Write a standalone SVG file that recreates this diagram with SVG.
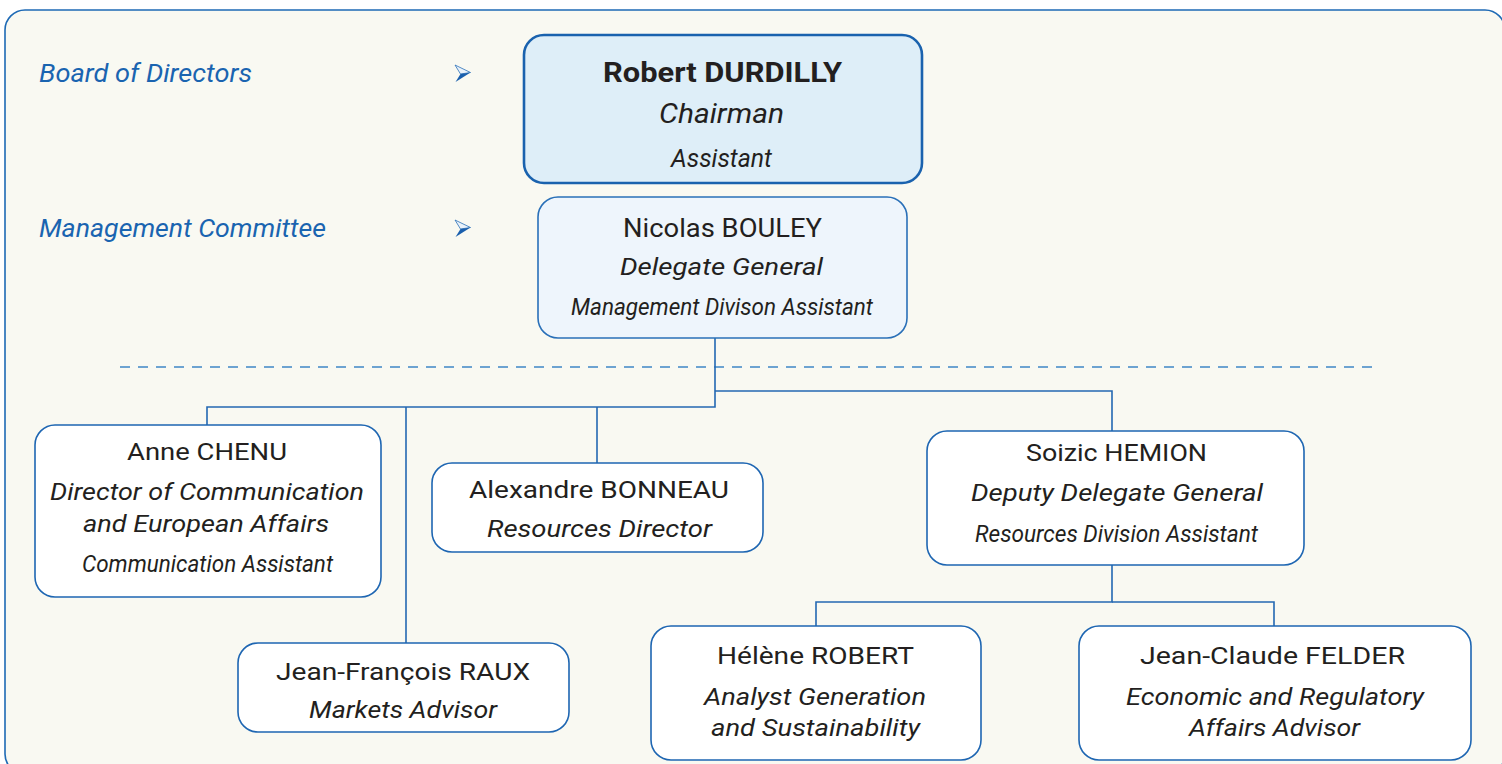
<svg xmlns="http://www.w3.org/2000/svg" width="1502" height="764" viewBox="0 0 1502 764">
<style>
.frame{fill:#f9f9f2;stroke:#1e6ab5;stroke-width:1.6}
.box{fill:#ffffff;stroke:#1e66b2;stroke-width:1.6}
.chair{fill:#deeef8;stroke:#1a62ae;stroke-width:2.6}
.dg{fill:#eef5fc;stroke:#2a70b8;stroke-width:1.6}
.conn{fill:none;stroke:#2468b2;stroke-width:1.6}
.dash{fill:none;stroke:#3f86c6;stroke-width:1.6;stroke-dasharray:10 8}
text{font-family:Roboto,"Liberation Sans",sans-serif;fill:#231f20;text-anchor:middle}
.name{font-size:24px;font-weight:400}
.role{font-size:24px;font-style:italic}
.asst{font-size:24px;font-style:italic}
.lbl{font-size:25px;font-style:italic;fill:#1a64b0;text-anchor:start}
.arrL{fill:#eaf2fa;stroke:#2a70b8;stroke-width:0.8}
.arrD{fill:#1a5fad}
</style>
<rect x="0" y="0" width="1502" height="764" fill="#ffffff"/>
<rect class="frame" x="5" y="10" width="1500" height="764" rx="20"/>

<g id="labels">
<text class="lbl" x="39" y="82" textLength="213" lengthAdjust="spacingAndGlyphs">Board of Directors</text>
<text class="lbl" x="39" y="237" textLength="287" lengthAdjust="spacingAndGlyphs">Management Committee</text>
<g id="arrow1">
<polygon class="arrL" points="455,65 470.5,72.5 460.5,74"/>
<polygon class="arrD" points="460.5,74 470.5,72.5 455.5,82"/>
</g>
<g id="arrow2">
<polygon class="arrL" points="455,220 470.5,227.5 460.5,229"/>
<polygon class="arrD" points="460.5,229 470.5,227.5 455.5,237"/>
</g>
</g>

<g id="connectors">
<line class="dash" x1="120" y1="367" x2="1378" y2="367"/>
<polyline class="conn" points="715,338 715,407 207,407 207,425"/>
<line class="conn" x1="406" y1="407" x2="406" y2="643"/>
<line class="conn" x1="597" y1="407" x2="597" y2="463"/>
<polyline class="conn" points="715,391 1112,391 1112,431"/>
<polyline class="conn" points="1112,565 1112,602 816,602 816,626"/>
<polyline class="conn" points="1112,602 1274,602 1274,626"/>
</g>

<g id="node-durdilly">
<rect class="chair" x="524" y="35" width="398" height="148" rx="20"/>
<text x="722.5" y="82" style="font-size:27px;font-weight:700" textLength="239" lengthAdjust="spacingAndGlyphs">Robert DURDILLY</text>
<text x="721.5" y="123" style="font-size:27px;font-style:italic" textLength="125" lengthAdjust="spacingAndGlyphs">Chairman</text>
<text x="721.5" y="167" style="font-size:26px;font-style:italic" textLength="101" lengthAdjust="spacingAndGlyphs">Assistant</text>
</g>

<g id="node-bouley">
<rect class="dg" x="538" y="197" width="369" height="141" rx="20"/>
<text x="722.5" y="237" style="font-size:25px;font-weight:400" textLength="199" lengthAdjust="spacingAndGlyphs">Nicolas BOULEY</text>
<text class="role" x="721.5" y="275" textLength="203" lengthAdjust="spacingAndGlyphs">Delegate General</text>
<text class="asst" x="722" y="315" textLength="302" lengthAdjust="spacingAndGlyphs">Management Divison Assistant</text>
</g>

<g id="node-chenu">
<rect class="box" x="35" y="425" width="346" height="172" rx="20"/>
<text class="name" x="207" y="460" textLength="160" lengthAdjust="spacingAndGlyphs">Anne CHENU</text>
<text class="role" x="207" y="500" textLength="314" lengthAdjust="spacingAndGlyphs">Director of Communication</text>
<text class="role" x="206" y="532" textLength="246" lengthAdjust="spacingAndGlyphs">and European Affairs</text>
<text class="asst" x="207.5" y="572" textLength="251" lengthAdjust="spacingAndGlyphs">Communication Assistant</text>
</g>

<g id="node-bonneau">
<rect class="box" x="432" y="463" width="331" height="89" rx="20"/>
<text class="name" x="599" y="498" textLength="260" lengthAdjust="spacingAndGlyphs">Alexandre BONNEAU</text>
<text class="role" x="599.5" y="537" textLength="225" lengthAdjust="spacingAndGlyphs">Resources Director</text>
</g>

<g id="node-raux">
<rect class="box" x="238" y="643" width="331" height="89" rx="20"/>
<text class="name" x="403" y="680" textLength="254" lengthAdjust="spacingAndGlyphs">Jean-François RAUX</text>
<text class="role" x="403" y="718" textLength="188" lengthAdjust="spacingAndGlyphs">Markets Advisor</text>
</g>

<g id="node-hemion">
<rect class="box" x="927" y="431" width="377" height="134" rx="20"/>
<text class="name" x="1116.5" y="461" textLength="181" lengthAdjust="spacingAndGlyphs">Soizic HEMION</text>
<text class="role" x="1117" y="501" textLength="292" lengthAdjust="spacingAndGlyphs">Deputy Delegate General</text>
<text class="asst" x="1116.5" y="542" textLength="283" lengthAdjust="spacingAndGlyphs">Resources Division Assistant</text>
</g>

<g id="node-robert">
<rect class="box" x="651" y="626" width="330" height="134" rx="20"/>
<text class="name" x="815.5" y="664" textLength="197" lengthAdjust="spacingAndGlyphs">Hélène ROBERT</text>
<text class="role" x="815" y="705" textLength="222" lengthAdjust="spacingAndGlyphs">Analyst Generation</text>
<text class="role" x="815.5" y="736" textLength="209" lengthAdjust="spacingAndGlyphs">and Sustainability</text>
</g>

<g id="node-felder">
<rect class="box" x="1079" y="626" width="392" height="134" rx="20"/>
<text class="name" x="1272.5" y="664" textLength="265" lengthAdjust="spacingAndGlyphs">Jean-Claude FELDER</text>
<text class="role" x="1275" y="705" textLength="298" lengthAdjust="spacingAndGlyphs">Economic and Regulatory</text>
<text class="role" x="1274.5" y="736" textLength="171" lengthAdjust="spacingAndGlyphs">Affairs Advisor</text>
</g>
</svg>
